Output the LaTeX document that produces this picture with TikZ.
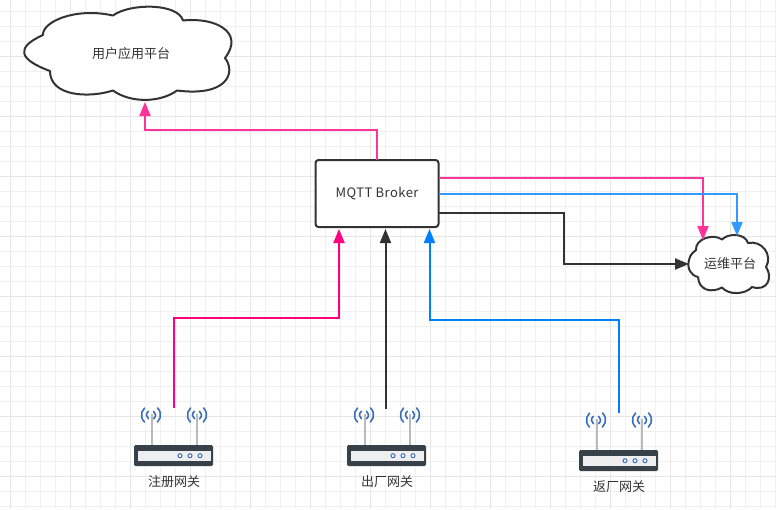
\documentclass[tikz,border=0pt]{standalone}
\usepackage{fontspec}
\setmainfont{Noto Sans CJK SC}
\newfontfamily\latinspaced[LetterSpace=3.5]{Noto Sans CJK SC}
\usetikzlibrary{arrows.meta}
\definecolor{gridminor}{HTML}{F0F0F0}
\definecolor{gridmajor}{HTML}{E6E6E6}
\definecolor{ink}{HTML}{333333}
\definecolor{hotpink}{HTML}{FF3399}
\definecolor{skyblue}{HTML}{3399FF}
\definecolor{deeppink}{HTML}{FF0080}
\definecolor{deepblue}{HTML}{007FFF}
\definecolor{routerdark}{HTML}{37414A}
\definecolor{routerlight}{HTML}{EEEEEE}
\definecolor{wifiblue}{HTML}{3B6DB8}
\tikzset{
  x=1pt,y=-1pt,
  txt/.style={font=\fontsize{13}{15}\selectfont,text=ink,inner sep=0pt},
  cloudshape/.style={draw=ink,line width=2pt,fill=white,line join=round},
  conn/.style={line width=2pt,-{Triangle[length=14pt,width=11pt]}},
  router/.pic={
    \draw[line width=2pt,color=black!27] (18,-31) -- (18,1) (63,-31) -- (63,1);
    \foreach \cx in {17,63}{
      \draw[wifiblue,line width=1.6pt,line cap=round]
        (\cx+6.4,-23) arc[start angle=-48,end angle=48,radius=9.5pt]
        (\cx+2.6,-26.3) arc[start angle=-55,end angle=55,radius=4.5pt]
        (\cx-6.4,-37) arc[start angle=132,end angle=228,radius=9.5pt]
        (\cx-2.6,-33.7) arc[start angle=125,end angle=235,radius=4.5pt];
    }
    \fill[routerdark,rounded corners=1.5pt] (0,0) rectangle (79,21);
    \fill[routerlight] (3.5,5.5) rectangle (76.5,16);
    \foreach \dx in {46,56,66}{
      \draw[wifiblue,fill=white,line width=1pt] (\dx,10.7) circle[radius=2pt];
    }
    \node[txt] (-label) at (40,37) {#1};
    \coordinate (-top) at (40,-37);
  }
}
\begin{document}
\begin{tikzpicture}
\useasboundingbox (0,0) rectangle (776,509);
\fill[white] (0,0) rectangle (776,509);
\foreach \gx in {10,25,...,775}{\draw[gridminor,line width=1pt] (\gx,0) -- (\gx,509);}
\foreach \gy in {11,26,...,508}{\draw[gridminor,line width=1pt] (0,\gy) -- (776,\gy);}
\foreach \gx in {10,70,...,775}{\draw[gridmajor,line width=1pt] (\gx,0) -- (\gx,509);}
\foreach \gy in {56,116,...,508}{\draw[gridmajor,line width=1pt] (0,\gy) -- (776,\gy);}

% large cloud
\draw[cloudshape] (43,35)
  .. controls (42,22) and (75,7) .. (113,15.5)
  .. controls (130,3) and (178,3) .. (183,20.5)
  .. controls (215,17) and (245,32) .. (225,58)
  .. controls (236,72) and (228,97) .. (177,90.5)
  .. controls (160,103) and (130,103) .. (113,90.5)
  .. controls (90,98) and (50,97) .. (50,71)
  .. controls (20,60) and (14,48) .. (43,35) -- cycle;
\node[txt] (platform) at (131,54) {用户应用平台};
\coordinate (platform-in) at (145,102);

% small cloud
\draw[cloudshape] (698,277)
  .. controls (690,275) and (687,268) .. (689,260)
  .. controls (690,254) and (694,252) .. (696,250)
  .. controls (695,239) and (713,233) .. (722,239.5)
  .. controls (728,233) and (745,233) .. (748,243)
  .. controls (762,240) and (773,255) .. (766,267)
  .. controls (773,277) and (768,292) .. (752,287)
  .. controls (745,295) and (728,295) .. (722,287.5)
  .. controls (712,293) and (699,291) .. (698,277) -- cycle;
\node[txt] (ops) at (730,264) {运维平台};
\coordinate (ops-in1) at (703,240);
\coordinate (ops-in2) at (737,236);
\coordinate (ops-in3) at (689,264);

% broker
\node[draw=ink,line width=2pt,fill=white,rounded corners=3pt,minimum width=123pt,minimum height=67pt,inner sep=0pt,outer sep=0pt,font=\fontsize{13}{15}\selectfont\latinspaced,text=ink] (broker) at (377,193.5) {MQTT Broker};
\coordinate (broker-in1) at (339,229);
\coordinate (broker-in2) at (385.5,229);
\coordinate (broker-in3) at (429.5,229);
\coordinate (broker-out1) at (439,178);
\coordinate (broker-out2) at (439,194);
\coordinate (broker-out3) at (439,213);

% routers
\pic (r1) at (134,445) {router=注册网关};
\pic (r2) at (347,445) {router=出厂网关};
\pic (r3) at (579,450) {router=返厂网关};

% connectors
\draw[conn,hotpink] (broker.north) |- (145,130) -- (platform-in);
\draw[conn,hotpink] (broker-out1) -| (ops-in1);
\draw[conn,skyblue] (broker-out2) -| (ops-in2);
\draw[conn,ink] (broker-out3) -- (564,213) -- (564,264) -- (ops-in3);
\draw[conn,deeppink] (r1-top) -- (174,318) -- (339,318) -- (broker-in1);
\draw[conn,ink] (r2-top) -- (385.5,408) -- (broker-in2);
\draw[conn,deepblue] (r3-top) -- (619,320) -- (429.5,320) -- (broker-in3);
\end{tikzpicture}
\end{document}
